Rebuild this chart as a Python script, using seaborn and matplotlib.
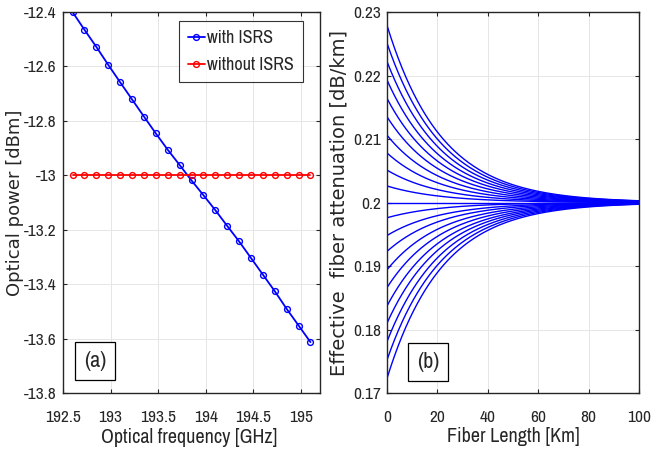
import numpy as np
import pandas as pd
import matplotlib
matplotlib.use("Agg")
import matplotlib.pyplot as plt
import seaborn as sns
from matplotlib import font_manager

# ---- data ----
freq_ghz = [192.6 + 0.125 * i for i in range(21)]
power_with_isrs = [-12.400, -12.465, -12.528, -12.594, -12.658, -12.721, -12.784,
                   -12.846, -12.906, -12.962, -13.019, -13.073, -13.128, -13.186,
                   -13.243, -13.304, -13.365, -13.426, -13.491, -13.552, -13.613]
power_without_isrs = [-13.0] * 21

att_start = [0.2279, 0.2251, 0.2222, 0.2193, 0.2164, 0.2135, 0.2106, 0.2078, 0.2051,
             0.2026, 0.2000, 0.1976, 0.1948, 0.1923, 0.1894, 0.1866, 0.1837, 0.1810,
             0.1781, 0.1752, 0.1723]
att_nominal = 0.2
decay_length_km = 21.7
fiber_length = np.linspace(0, 100, 201)

xticks_a = [192.5, 193, 193.5, 194, 194.5, 195]
yticks_a = [-13.8, -13.6, -13.4, -13.2, -13.0, -12.8, -12.6, -12.4]
xticks_b = [0, 20, 40, 60, 80, 100]
yticks_b = [0.17, 0.18, 0.19, 0.2, 0.21, 0.22, 0.23]

sns.set_style("ticks")
names = {f.name for f in font_manager.fontManager.ttflist}
pref = ["Liberation Sans Narrow", "Arial Narrow", "Arimo Narrow", "Archivo Narrow",
        "Roboto Condensed", "Open Sans Condensed", "Barlow Semi Condensed"]
narrow = next((n for n in pref if n in names), "DejaVu Sans")
plt.rcParams["font.family"] = ["DejaVu Sans"]
narrow_kw = dict(family=[narrow, "DejaVu Sans"], stretch="condensed")

fig = plt.figure(figsize=(6.52, 4.51), dpi=100)
ax1 = fig.add_axes([63 / 652, 58 / 451, 257 / 652, 381 / 451])
ax2 = fig.add_axes([387 / 652, 58 / 451, 252 / 652, 381 / 451])

# ---- panel (a) ----
for vals, col, lab in [(power_with_isrs, "#0000ff", "with ISRS"),
                       (power_without_isrs, "#ff0000", "without ISRS")]:
    sns.lineplot(x=freq_ghz, y=vals, color=col, marker="o", markersize=4.2,
                 markerfacecolor="none", markeredgecolor=col, markeredgewidth=1.0,
                 linewidth=1.3, ax=ax1, sort=False, label=lab)
ax1.set_xlim(192.5, 195.2)
ax1.set_ylim(-13.8, -12.4)
ax1.set_xticks(xticks_a)
ax1.set_xticklabels(["192.5", "193", "193.5", "194", "194.5", "195"])
ax1.set_yticks(yticks_a)
ax1.set_yticklabels(["-13.8", "-13.6", "-13.4", "-13.2", "-13", "-12.8", "-12.6", "-12.4"])
ax1.set_xlabel("Optical frequency [GHz]", fontsize=14.5, **narrow_kw)
ax1.xaxis.set_label_coords(0.49, -0.092)
ax1.set_ylabel("Optical power [dBm]", fontsize=13)
ax1.yaxis.set_label_coords(-0.152, 0.5)
leg = ax1.legend(loc="upper right", bbox_to_anchor=(0.932, 0.976), frameon=True,
                 fancybox=False, edgecolor="black",
                 prop=dict(family=[narrow, "DejaVu Sans"], stretch="condensed", size=13),
                 handlelength=0.95, handletextpad=0.1, borderpad=0.5, labelspacing=0.62,
                 borderaxespad=0.0)
leg.get_frame().set_linewidth(0.8)
ax1.text(0.126, 0.083, "(a)", transform=ax1.transAxes, fontsize=16, ha="center", va="center",
         bbox=dict(boxstyle="square,pad=0.4", fc="white", ec="black", lw=0.9), **narrow_kw)

# ---- panel (b) ----
rows = []
for i, a0 in enumerate(att_start):
    vals = att_nominal + (a0 - att_nominal) * np.exp(-fiber_length / decay_length_km)
    rows.append(pd.DataFrame({"L": fiber_length, "a": vals, "c": i}))
df_b = pd.concat(rows, ignore_index=True)
sns.lineplot(data=df_b, x="L", y="a", hue="c", palette=["#0000ff"] * len(att_start),
             linewidth=1.0, legend=False, ax=ax2, sort=False)
ax2.set_xlim(0, 100)
ax2.set_ylim(0.17, 0.23)
ax2.set_xticks(xticks_b)
ax2.set_yticks(yticks_b)
ax2.set_yticklabels(["0.17", "0.18", "0.19", "0.2", "0.21", "0.22", "0.23"])
ax2.set_xlabel("Fiber Length [Km]", fontsize=14.5, **narrow_kw)
ax2.xaxis.set_label_coords(0.5, -0.09)
ax2.set_ylabel("Effective  fiber attenuation [dB/km]", fontsize=14)
ax2.yaxis.set_label_coords(-0.151, 0.5)
ax2.text(0.163, 0.081, "(b)", transform=ax2.transAxes, fontsize=16, ha="center", va="center",
         bbox=dict(boxstyle="square,pad=0.4", fc="white", ec="black", lw=0.9), **narrow_kw)

for ax in (ax1, ax2):
    ax.grid(True, color="#e6e6e6", linewidth=0.7)
    ax.set_axisbelow(True)
    for s in ax.spines.values():
        s.set_visible(True)
        s.set_color("#262626")
        s.set_linewidth(1.0)
    ax.tick_params(which="both", direction="in", top=True, right=True, length=3,
                   width=0.8, labelsize=12.5, colors="#262626")
    ax.tick_params(axis="x", pad=12.5)
    ax.tick_params(axis="y", pad=4.5)
    for lab in ax.get_xticklabels() + ax.get_yticklabels():
        lab.set_fontfamily([narrow, "DejaVu Sans"])
        lab.set_fontstretch("condensed")

fig.savefig("out.png", dpi=100)
